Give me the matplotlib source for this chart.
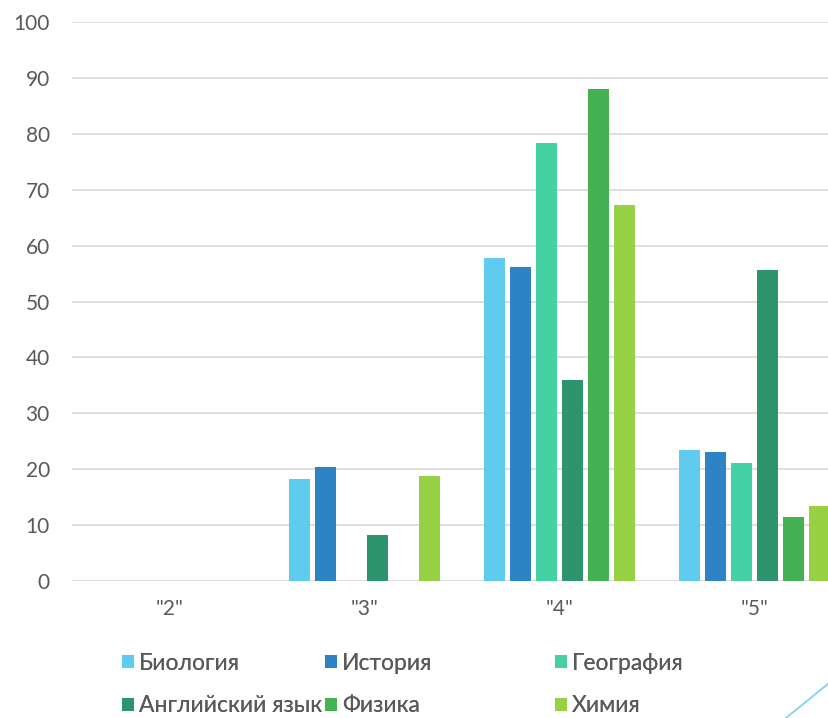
import matplotlib
matplotlib.use("Agg")
import matplotlib.pyplot as plt
import numpy as np
from matplotlib.lines import Line2D

categories = ['"2"', '"3"', '"4"', '"5"']
series_names = ["Биология", "История", "География", "Английский язык", "Физика", "Химия"]
biology = [0, 18.3, 57.7, 23.5]
history = [0, 20.4, 56.2, 23.0]
geography = [0, 0, 78.4, 21.1]
english = [0, 8.3, 35.9, 55.6]
physics = [0, 0, 88.1, 11.5]
chemistry = [0, 18.8, 67.3, 13.4]
y_ticks = [0, 10, 20, 30, 40, 50, 60, 70, 80, 90, 100]

series_values = [biology, history, geography, english, physics, chemistry]
colors = ["#5FCBEF", "#2E83C4", "#44D1A4", "#2E946E", "#46B153", "#97D143"]

plt.rcParams['font.family'] = ['Lato', 'DejaVu Sans']
text_color = "#595959"

W, H = 829, 718
fig = plt.figure(figsize=(W / 100, H / 100), dpi=100)
left_px, right_px = 72, 852
bottom_px, top_px = 581, 22
ax = fig.add_axes([left_px / W, (H - bottom_px) / H, (right_px - left_px) / W, (bottom_px - top_px) / H])

x = np.arange(len(categories))
step = 0.133
width = 0.108
n = len(series_values)
for i, (vals, c, name) in enumerate(zip(series_values, colors, series_names)):
    offs = (i - (n - 1) / 2) * step
    ax.bar(x + offs, vals, width=width, color=c, label=name, zorder=3, linewidth=0)

ax.set_xlim(-0.5, len(categories) - 0.5)
ax.set_ylim(0, 100)
ax.set_yticks(y_ticks)
ax.set_xticks(x)
ax.set_xticklabels(categories)
ax.yaxis.grid(True, color="#D9D9D9", linewidth=1.2, zorder=0)
ax.set_axisbelow(True)
for s in ax.spines.values():
    s.set_visible(False)
ax.tick_params(axis='both', length=0, labelsize=15, colors=text_color)
ax.tick_params(axis='y', pad=16)
ax.tick_params(axis='x', pad=13)
for lab in ax.get_yticklabels():
    lab.set_clip_on(False)

# legend: individual entries positioned like the reference
handles = ax.get_legend_handles_labels()[0]
positions = [(122, 663), (325, 663), (555, 663), (122, 706), (325, 706), (555, 706)]
for h, name, (px, py) in zip(handles, series_names, positions):
    leg = fig.legend([h], [name], loc='center left', bbox_to_anchor=(px / W, (H - py) / H),
                     frameon=False, fontsize=16.5, handlelength=0.52, handleheight=0.52,
                     handletextpad=0.22, borderpad=0, borderaxespad=0)
    for t in leg.get_texts():
        t.set_color(text_color)
    fig.add_artist(leg)

# decorative corner line
fig.add_artist(Line2D([829 / W, 786 / W], [(H - 683) / H, 0], color="#7DD3F0",
                      linewidth=1.3, transform=fig.transFigure))

fig.savefig("out.png", dpi=100)
